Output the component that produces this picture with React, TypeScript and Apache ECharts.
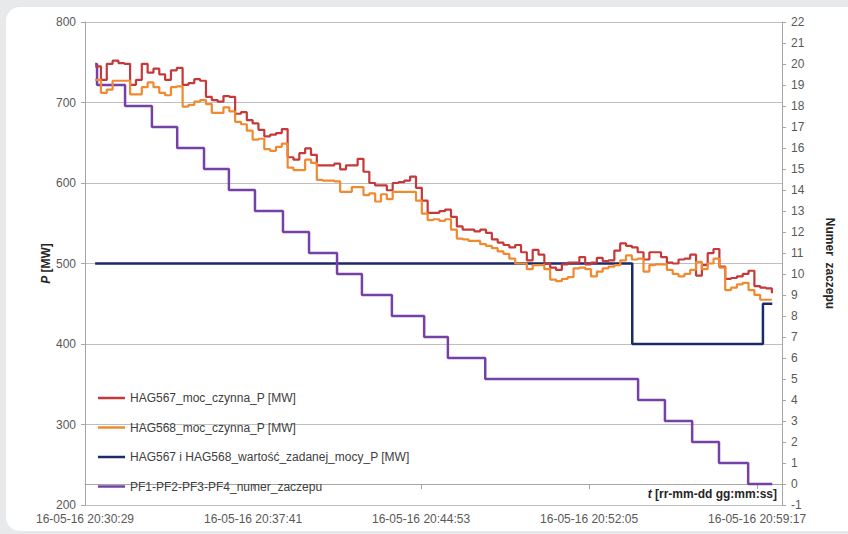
import React, { useEffect, useRef } from "react";
import * as echarts from "echarts";

// Time axis: seconds after 16-05-16 20:30:29
const START_CLOCK = "20:30:29";
const X_MAX = 1792;
const TICK_SECONDS = [0, 432, 864, 1296, 1728];

// Active power samples every 15 s starting at t = 26 s
const SAMPLE_START = 26;
const SAMPLE_STEP = 15;

const hag567 = [
  745, 728, 748, 752, 749, 748, 722, 728, 748, 737, 742, 735, 728, 740, 743, 722, 724, 729, 727, 707,
  703, 701, 708, 707, 686, 688, 678, 674, 666, 658, 660, 662, 667, 632, 629, 637, 643, 635, 622, 622,
  622, 624, 617, 622, 622, 630, 614, 600, 597, 597, 591, 600, 601, 603, 608, 594, 578, 563, 563, 565,
  567, 558, 546, 542, 542, 540, 542, 538, 530, 526, 523, 520, 523, 514, 504, 517, 511, 500, 495, 492,
  499, 501, 501, 508, 499, 501, 507, 503, 504, 516, 525, 522, 520, 514, 505, 514, 514, 508, 501, 500,
  505, 506, 511, 485, 498, 513, 518, 496, 481, 482, 484, 487, 491, 472, 470, 469, 463,
];

const hag568 = [
  728, 712, 716, 727, 727, 727, 710, 710, 719, 725, 719, 712, 709, 719, 720, 695, 697, 701, 703, 698,
  687, 687, 694, 689, 676, 673, 665, 654, 655, 642, 640, 645, 649, 619, 616, 616, 629, 625, 604, 603,
  603, 602, 589, 589, 595, 595, 585, 587, 577, 586, 580, 589, 589, 589, 589, 578, 562, 554, 555, 553,
  555, 542, 531, 530, 528, 528, 524, 522, 519, 515, 512, 506, 500, 500, 493, 498, 498, 493, 480, 478,
  481, 483, 494, 495, 493, 484, 490, 494, 496, 498, 504, 510, 505, 506, 490, 498, 499, 499, 492, 487,
  484, 487, 492, 502, 493, 500, 506, 495, 467, 470, 474, 476, 467, 461, 455, 455, 455,
];

// Setpoint changes: [seconds, MW]
const setpointTimes = [26, 1407, 1743, 1767];
const setpointValues = [500, 400, 450, 450];

// Tap number changes: [seconds, tap]
const tapTimes = [26, 31, 103, 172, 237, 306, 370, 437, 509, 576, 648, 712, 789, 872, 933, 1029, 1422, 1491, 1561, 1630, 1705, 1767];
const tapValues = [20, 19, 18, 17, 16, 15, 14, 13, 12, 11, 10, 9, 8, 7, 6, 5, 4, 3, 2, 1, 0, 0];

const seriesNames = [
  "HAG567_moc_czynna_P [MW]",
  "HAG568_moc_czynna_P [MW]",
  "HAG567 i HAG568_wartość_zadanej_mocy_P [MW]",
  "PF1-PF2-PF3-PF4_numer_zaczepu",
];

function clockLabel(sec: number): string {
  const [h, m, s] = START_CLOCK.split(":").map(Number);
  const t = h * 3600 + m * 60 + s + sec;
  const p = (n: number) => String(n).padStart(2, "0");
  return `16-05-16 ${p(Math.floor(t / 3600))}:${p(Math.floor((t % 3600) / 60))}:${p(t % 60)}`;
}

export default function App() {
  const ref = useRef<HTMLDivElement>(null);
  useEffect(() => {
    if (!ref.current) return;
    const chart = echarts.init(ref.current, undefined, { renderer: "svg" });
    const font = "Liberation Sans";
    const gray = "#595959";
    const axisGray = "#a6a6a6";
    const redData = hag567.map((v, i) => [SAMPLE_START + SAMPLE_STEP * i, v]);
    const orangeData = hag568.map((v, i) => [SAMPLE_START + SAMPLE_STEP * i, v]);
    const setData = setpointTimes.map((t, i) => [t, setpointValues[i]]);
    const tapData = tapTimes.map((t, i) => [t, tapValues[i]]);
    chart.setOption({
      animation: false,
      grid: { left: 85, right: 66, top: 22, bottom: 29, containLabel: false },
      legend: {
        orient: "vertical",
        left: 93,
        top: 387,
        icon: "rect",
        itemWidth: 27,
        itemHeight: 2.5,
        itemGap: 17.5,
        data: seriesNames,
        textStyle: { fontFamily: font, fontSize: 12, color: "#404040" },
      },
      xAxis: {
        type: "value",
        min: 0,
        max: X_MAX,
        interval: 432,
        axisLine: { show: true, lineStyle: { color: axisGray, width: 1 } },
        axisTick: { show: true, length: 5, lineStyle: { color: axisGray }, customValues: TICK_SECONDS },
        axisLabel: {
          customValues: TICK_SECONDS,
          formatter: (v: number) => clockLabel(v),
          fontFamily: font,
          fontSize: 12,
          color: gray,
          margin: 8,
        },
        splitLine: { show: false },
      },
      yAxis: [
        {
          type: "value",
          min: 200,
          max: 800,
          interval: 100,
          name: "{i|P} [MW]",
          nameLocation: "middle",
          nameGap: 33,
          nameMoveOverlap: false,
          nameTextStyle: {
            fontFamily: font,
            fontSize: 12,
            fontWeight: "bold",
            color: "#262626",
            rich: { i: { fontStyle: "italic", fontWeight: "bold", fontFamily: font, fontSize: 12, color: "#262626" } },
          },
          axisLine: { show: true, lineStyle: { color: axisGray } },
          axisTick: { show: true, length: 4, lineStyle: { color: axisGray } },
          axisLabel: { fontFamily: font, fontSize: 12, color: gray, margin: 9 },
          splitLine: { show: true, lineStyle: { color: "#bfbfbf", width: 1 } },
        },
        {
          type: "value",
          position: "right",
          min: -1,
          max: 22,
          interval: 1,
          name: "Numer  zaczepu",
          nameLocation: "middle",
          nameRotate: -90,
          nameGap: 42,
          nameTextStyle: { fontFamily: font, fontSize: 12, fontWeight: "bold", color: "#262626" },
          axisLine: { show: true, lineStyle: { color: axisGray } },
          axisTick: { show: true, length: 4, lineStyle: { color: axisGray } },
          axisLabel: { fontFamily: font, fontSize: 12, color: gray, margin: 9 },
          splitLine: { show: false },
        },
      ],
      graphic: [
        {
          type: "text",
          right: 71,
          top: 488,
          style: {
            text: "{i|t} [rr-mm-dd gg:mm:ss]",
            fontFamily: font,
            fontSize: 12,
            fontWeight: "bold",
            fill: "#262626",
            rich: { i: { fontStyle: "italic", fontWeight: "bold", fontFamily: font, fontSize: 12, fill: "#262626" } },
          },
        },
      ],
      series: [
        {
          name: seriesNames[2],
          type: "line",
          step: "end",
          symbol: "none",
          data: setData,
          lineStyle: { color: "#1c2a6a", width: 2.5 },
          itemStyle: { color: "#1c2a6a" },
          z: 2,
        },
        {
          name: seriesNames[3],
          type: "line",
          step: "end",
          yAxisIndex: 1,
          symbol: "none",
          data: tapData,
          lineStyle: { color: "#7541a6", width: 2.5 },
          itemStyle: { color: "#7541a6" },
          z: 3,
        },
        {
          name: seriesNames[0],
          type: "line",
          step: "end",
          symbol: "none",
          data: redData,
          lineStyle: { color: "#c6393a", width: 2.2 },
          itemStyle: { color: "#c6393a" },
          z: 4,
        },
        {
          name: seriesNames[1],
          type: "line",
          step: "end",
          symbol: "none",
          data: orangeData,
          lineStyle: { color: "#f08a30", width: 2.2 },
          itemStyle: { color: "#f08a30" },
          z: 5,
        },
      ],
    });
    return () => chart.dispose();
  }, []);
  return (
    <div style={{ position: "fixed", left: 0, top: 0, width: 848, height: 534, background: "#e8e9eb", overflow: "hidden" }}>
      <div style={{ position: "absolute", left: 6, top: 7, width: 880, height: 524, background: "#ffffff", borderRadius: 14 }} />
      <div ref={ref} style={{ position: "absolute", left: 0, top: 0, width: 848, height: 534 }} />
    </div>
  );
}
